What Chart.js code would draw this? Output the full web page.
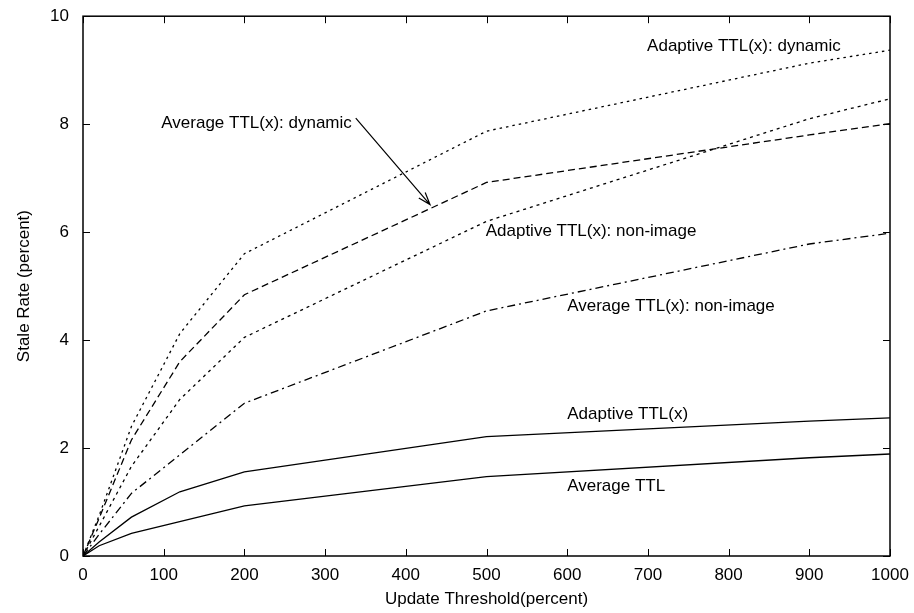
<!DOCTYPE html>
<html>
<head>
<meta charset="utf-8">
<script src="https://cdn.jsdelivr.net/npm/chart.js@4.4.1/dist/chart.umd.min.js"></script>
<style>
  html, body { margin: 0; padding: 0; background: #fff; }
  #wrap { width: 914px; height: 613px; }
</style>
</head>
<body>
<div id="wrap"><canvas id="c" width="914" height="613"></canvas></div>
<script>
// ---- data ----
const thresholds = [0, 20, 60, 120, 200, 500, 900, 1000];
const averageTTL            = [0, 0.19, 0.42, null, 0.93, 1.47, 1.82, 1.89];
const adaptiveTTLx          = [0, 0.26, 0.72, 1.19, 1.56, 2.21, 2.50, 2.56];
const averageTTLxNonImage   = [0, 0.40, 1.16, null, 2.83, 4.54, 5.78, 5.98];
const adaptiveTTLxNonImage  = [0, 0.55, 1.66, 2.90, 4.05, 6.20, 8.10, 8.47];
const averageTTLxDynamic    = [0, 0.70, 2.15, 3.60, 4.84, 6.92, 7.80, 8.01];
const adaptiveTTLxDynamic   = [0, 0.75, 2.40, 4.12, 5.60, 7.87, 9.13, 9.37];

const xTicks = [0, 100, 200, 300, 400, 500, 600, 700, 800, 900, 1000];
const yTicks = [0, 2, 4, 6, 8, 10];

const seriesNames = [
  'Average TTL', 'Adaptive TTL(x)',
  'Average TTL(x): non-image', 'Adaptive TTL(x): non-image',
  'Average TTL(x): dynamic', 'Adaptive TTL(x): dynamic'
];

// label placements (data coordinates) and arrow
const labelSpots = [
  { text: 'Average TTL', x: 600, y: 1.30 },
  { text: 'Adaptive TTL(x)', x: 600, y: 2.63 },
  { text: 'Average TTL(x): non-image', x: 600, y: 4.62 },
  { text: 'Adaptive TTL(x): non-image', x: 499, y: 6.01 },
  { text: 'Average TTL(x): dynamic', x: 97, y: 8.01 },
  { text: 'Adaptive TTL(x): dynamic', x: 699, y: 9.44 }
];
const arrowFrom = { x: 338, y: 8.11 };
const arrowTo = { x: 430, y: 6.51 };

function pts(arr) {
  return thresholds.map((x, i) => ({ x: x, y: arr[i] })).filter(p => p.y !== null);
}

const dashes = [[], [], [8, 4, 2, 4], [3, 4], [7, 4], [2.5, 4]];
const allSeries = [averageTTL, adaptiveTTLx, averageTTLxNonImage, adaptiveTTLxNonImage, averageTTLxDynamic, adaptiveTTLxDynamic];

const datasets = allSeries.map((arr, i) => ({
  label: seriesNames[i],
  data: pts(arr),
  borderColor: '#000',
  borderWidth: 1.3,
  borderDash: dashes[i],
  pointRadius: 0,
  fill: false,
  tension: 0
}));

Chart.defaults.font.family = "'Liberation Sans', Arial, Helvetica, sans-serif";
Chart.defaults.font.size = 17;
Chart.defaults.color = '#000';

const framePlugin = {
  id: 'frame',
  afterDatasetsDraw(chart) {
    const ctx = chart.ctx;
    const a = chart.chartArea;
    const xs = chart.scales.x, ys = chart.scales.y;
    ctx.save();
    ctx.strokeStyle = '#000';
    ctx.lineWidth = 1.5;
    ctx.setLineDash([]);
    ctx.strokeRect(a.left, a.top, a.right - a.left, a.bottom - a.top);
    ctx.lineWidth = 1;
    const tl = 7;
    ctx.beginPath();
    xTicks.forEach(v => {
      const px = Math.round(xs.getPixelForValue(v)) + 0.5;
      ctx.moveTo(px, a.bottom); ctx.lineTo(px, a.bottom - tl);
      ctx.moveTo(px, a.top); ctx.lineTo(px, a.top + tl);
    });
    yTicks.forEach(v => {
      const py = Math.round(ys.getPixelForValue(v)) + 0.5;
      ctx.moveTo(a.left, py); ctx.lineTo(a.left + tl, py);
      ctx.moveTo(a.right, py); ctx.lineTo(a.right - tl, py);
    });
    ctx.stroke();

    // labels
    ctx.fillStyle = '#000';
    ctx.font = "17px 'Liberation Sans', Arial, sans-serif";
    ctx.textBaseline = 'middle';
    ctx.textAlign = 'left';
    labelSpots.forEach(l => {
      ctx.fillText(l.text, xs.getPixelForValue(l.x), ys.getPixelForValue(l.y));
    });

    // arrow
    const x1 = xs.getPixelForValue(arrowFrom.x), y1 = ys.getPixelForValue(arrowFrom.y);
    const x2 = xs.getPixelForValue(arrowTo.x), y2 = ys.getPixelForValue(arrowTo.y);
    ctx.lineWidth = 1.2;
    ctx.beginPath();
    ctx.moveTo(x1, y1); ctx.lineTo(x2, y2);
    const ang = Math.atan2(y2 - y1, x2 - x1);
    const hl = 13, ha = 0.33;
    ctx.moveTo(x2 - hl * Math.cos(ang - ha), y2 - hl * Math.sin(ang - ha));
    ctx.lineTo(x2, y2);
    ctx.lineTo(x2 - hl * Math.cos(ang + ha), y2 - hl * Math.sin(ang + ha));
    ctx.stroke();
    ctx.restore();
  }
};

new Chart(document.getElementById('c'), {
  type: 'line',
  data: { datasets: datasets },
  options: {
    responsive: false,
    animation: false,
    layout: { padding: { left: 0, right: 24, top: 13, bottom: 0 } },
    plugins: { legend: { display: false }, tooltip: { enabled: false } },
    scales: {
      x: {
        type: 'linear',
        min: 0, max: 1000,
        afterBuildTicks(scale) { scale.ticks = xTicks.map(v => ({ value: v })); },
        afterFit(scale) { scale.height = 57; },
        grid: { display: false },
        border: { display: false },
        ticks: { padding: 1, maxRotation: 0, autoSkip: false, color: '#000', callback: v => String(v) },
        title: { display: true, text: 'Update Threshold(percent)', color: '#000', padding: { top: 0, bottom: 3 } }
      },
      y: {
        type: 'linear',
        min: 0, max: 10,
        afterBuildTicks(scale) { scale.ticks = yTicks.map(v => ({ value: v })); },
        afterFit(scale) { scale.width = 83; },
        grid: { display: false },
        border: { display: false },
        ticks: { padding: 6, color: '#000', callback: v => String(v) },
        title: { display: true, text: 'Stale Rate (percent)', color: '#000', padding: { top: 14, bottom: 0 } }
      }
    }
  },
  plugins: [framePlugin]
});
</script>
</body>
</html>
